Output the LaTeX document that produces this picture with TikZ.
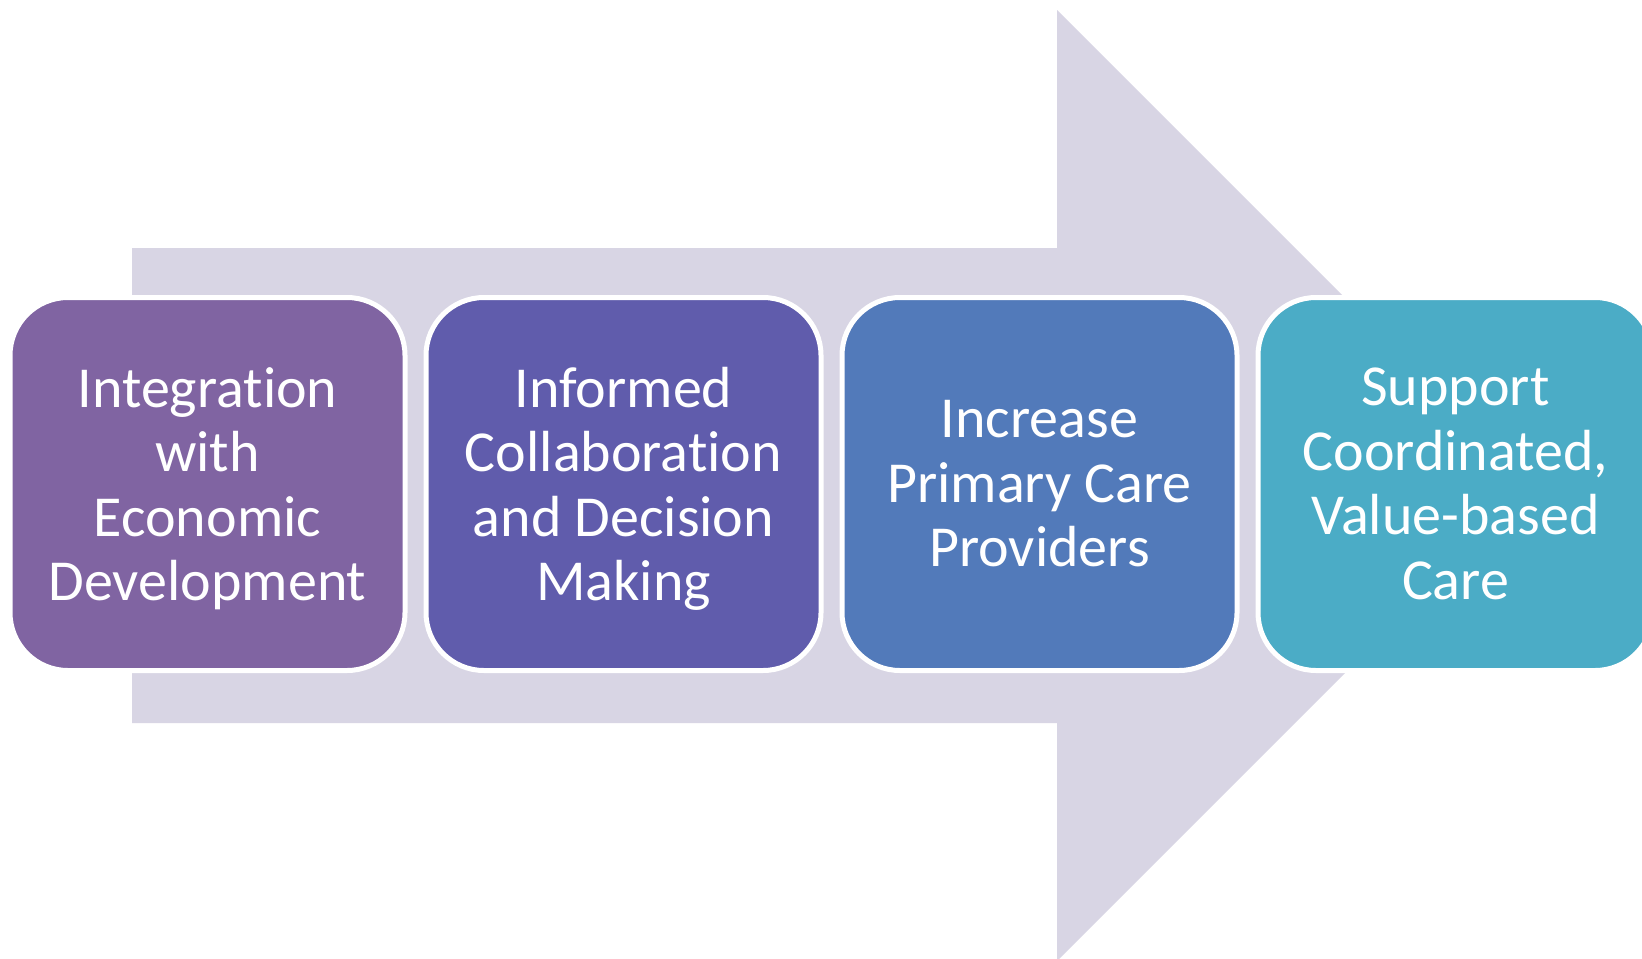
\documentclass[tikz,border=0pt]{standalone}
\usepackage{fontspec}
\setmainfont{Carlito}[Ligatures={NoCommon}]
\definecolor{arrowc}{HTML}{D8D5E4}
\definecolor{cA}{HTML}{8064A2}
\definecolor{cB}{HTML}{605CAC}
\definecolor{cC}{HTML}{527ABA}
\definecolor{cD}{HTML}{4BACC6}
\tikzset{
  stepbox/.style={draw=white, line width=2.5pt, rounded corners=29pt,
    minimum width=197.5pt, minimum height=186.5pt, inner sep=0pt},
  steptext/.style={text=white, align=center, inner sep=0pt,
    font=\fontsize{29}{32.25}\selectfont,
    execute at begin node=\strut, execute at end node=\strut},
  bigarrow/.style={fill=arrowc, draw=none}
}
\begin{document}
\begin{tikzpicture}[x=0.5pt,y=-0.5pt]
\useasboundingbox (0,0) rectangle (1642,958);
\clip (0,0) rectangle (1642,958);
\fill[white] (0,0) rectangle (1642,958);
\coordinate (s1) at (132,248);
\coordinate (s2) at (1057,248);
\coordinate (h1) at (1057,10);
\coordinate (tip) at (1532.5,485.5);
\coordinate (h2) at (1057,961);
\coordinate (s3) at (1057,723);
\coordinate (s4) at (132,723);
\path[bigarrow] (s1) -- (s2) -- (h1) -- (tip) -- (h2) -- (s3) -- (s4) -- cycle;
\node[stepbox, fill=cA] (b1) at (207.5,484) {};
\node[stepbox, fill=cB] (b2) at (623.5,484) {};
\node[stepbox, fill=cC] (b3) at (1039.5,484) {};
\node[stepbox, fill=cD] (b4) at (1455.5,484) {};
\node[steptext] (t1) at ([yshift=-4.75pt]b1.center) {Integration\\with\\Economic\\Development};
\node[steptext] (t2) at ([yshift=-4.75pt]b2.center) {Informed\\Collaboration\\and Decision\\Making};
\node[steptext] (t3) at ([yshift=-4.75pt]b3.center) {Increase\\Primary Care\\Providers};
\node[steptext] (t4) at ([yshift=-4.75pt]b4.center) {Support\\Coordinated,\\Value-based\\Care};
\end{tikzpicture}
\end{document}
